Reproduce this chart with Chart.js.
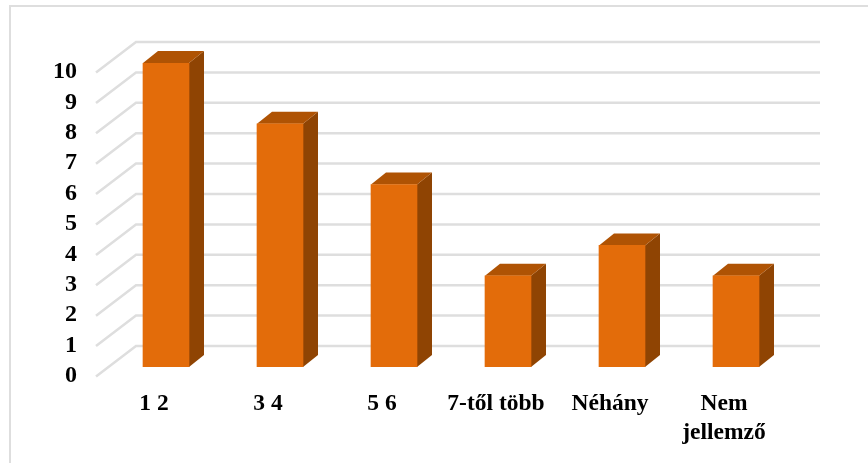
<!DOCTYPE html>
<html>
<head>
<meta charset="utf-8">
<script src="https://cdn.jsdelivr.net/npm/chart.js@4/dist/chart.umd.js"></script>
<style>
  html, body { margin: 0; padding: 0; background: #fff; }
  #wrap { width: 868px; height: 463px; }
</style>
</head>
<body>
<div id="wrap"><canvas id="chart" width="868" height="463"></canvas></div>
<script>
const categories = ["1 2", "3 4", "5 6", "7-től több", "Néhány", ["Nem", "jellemző"]];
const values = [10, 8, 6, 3, 4, 3];
const yTicks = [0, 1, 2, 3, 4, 5, 6, 7, 8, 9, 10];

const FRONT = "#e36c0a", SIDE = "#8f4403", TOP = "#af5304", GRID = "#dedede";
const BAR_DX = 15, BAR_DY = 12;    // depth of the bars
const WALL_DX = 27, WALL_DY = 21;  // back wall offset from the plot area
const SIDE_DX = 13, SIDE_DY = 9.5; // front end of the side wall lines

function poly(ctx, color, pts) {
  ctx.fillStyle = color;
  ctx.beginPath();
  pts.forEach((p, i) => i ? ctx.lineTo(p[0], p[1]) : ctx.moveTo(p[0], p[1]));
  ctx.closePath();
  ctx.fill();
}

const fake3d = {
  id: "fake3d",
  beforeDatasetsDraw(chart) {
    const { ctx, chartArea, scales } = chart;
    ctx.save();

    // frame around the picture, open on the right and bottom
    ctx.strokeStyle = GRID;
    ctx.lineWidth = 2;
    ctx.beginPath();
    ctx.moveTo(10, 463);
    ctx.lineTo(10, 6);
    ctx.lineTo(868, 6);
    ctx.stroke();

    // back wall and side wall lines
    ctx.lineWidth = 2.5;
    yTicks.forEach(v => {
      const y = scales.y.getPixelForValue(v);
      ctx.beginPath();
      ctx.moveTo(chartArea.left - SIDE_DX, y + SIDE_DY);
      ctx.lineTo(chartArea.left + WALL_DX, y - WALL_DY);
      ctx.lineTo(chartArea.right + WALL_DX, y - WALL_DY);
      ctx.stroke();
    });

    // side and top faces of the bars
    chart.getDatasetMeta(0).data.forEach(bar => {
      const l = bar.x - bar.width / 2, r = bar.x + bar.width / 2;
      poly(ctx, SIDE, [[r, bar.y], [r + BAR_DX, bar.y - BAR_DY], [r + BAR_DX, bar.base - BAR_DY], [r, bar.base]]);
      poly(ctx, TOP, [[l, bar.y], [l + BAR_DX, bar.y - BAR_DY], [r + BAR_DX, bar.y - BAR_DY], [r, bar.y]]);
    });
    ctx.restore();
  }
};

const yFont = { family: "'Liberation Serif', serif", size: 24, weight: "bold" };
const xFont = { family: "'Liberation Serif', serif", size: 23.5, weight: "bold", lineHeight: 1.24 };

new Chart(document.getElementById("chart").getContext("2d"), {
  type: "bar",
  data: {
    labels: categories,
    datasets: [{
      data: values,
      backgroundColor: FRONT,
      barThickness: 46
    }]
  },
  plugins: [fake3d],
  options: {
    responsive: false,
    animation: false,
    layout: { padding: { top: 63, right: 75, left: 0, bottom: 0 } },
    plugins: { legend: { display: false }, tooltip: { enabled: false } },
    scales: {
      x: {
        afterFit(scale) { scale.height = 96; },
        grid: { display: false },
        border: { display: false },
        ticks: {
          color: "#000",
          font: xFont,
          autoSkip: false,
          maxRotation: 0,
          minRotation: 0,
          padding: 14,
          labelOffset: -12
        }
      },
      y: {
        min: 0,
        max: 10,
        afterFit(scale) { scale.width = 109; },
        grid: { display: false },
        border: { display: false },
        afterBuildTicks(scale) { scale.ticks = yTicks.map(v => ({ value: v })); },
        ticks: {
          color: "#000",
          font: yFont,
          autoSkip: false,
          padding: 24,
          labelOffset: 9
        }
      }
    }
  }
});
</script>
</body>
</html>
